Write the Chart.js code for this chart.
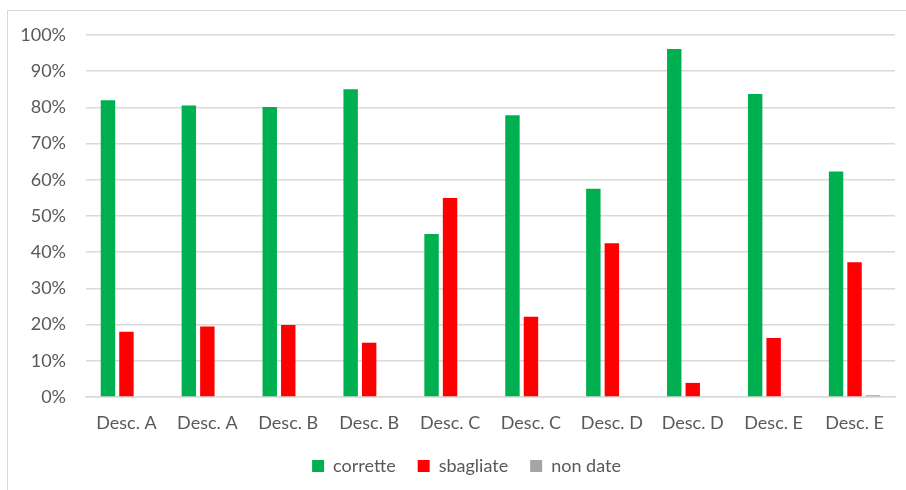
<!DOCTYPE html>
<html>
<head>
<meta charset="utf-8">
<script src="https://cdn.jsdelivr.net/npm/chart.js@4"></script>
<style>
  html, body { margin: 0; padding: 0; background: #fff; overflow: hidden; }
  #cornice { position: absolute; left: 7px; top: 10px; width: 950px; height: 550px; border: 1.5px solid #d9d9d9; }
  #wrap { position: absolute; left: 0; top: 0; width: 906px; height: 490px; }
</style>
</head>
<body>
<div id="cornice"></div>
<div id="wrap"><canvas id="grafico"></canvas></div>
<script>
// categorie e valori (percentuali)
const categorie = ["Desc. A", "Desc. A", "Desc. B", "Desc. B", "Desc. C", "Desc. C", "Desc. D", "Desc. D", "Desc. E", "Desc. E"];
const corrette = [82.0, 80.5, 80.1, 85.0, 45.0, 77.8, 57.5, 96.1, 83.7, 62.3];
const sbagliate = [18.0, 19.5, 19.9, 15.0, 55.0, 22.2, 42.5, 3.9, 16.3, 37.2];
const nonDate = [0, 0, 0, 0, 0, 0, 0, 0, 0, 0.5];

const grigioTesto = "#595959";
const font = { family: "Lato", size: 18 };

// sposta la legenda un po' a destra come nell'originale
const spostaLegenda = {
  id: "spostaLegenda",
  afterLayout(chart) {
    const lg = chart.legend;
    if (lg) { lg.left += 19; lg.right += 19; }
  }
};

new Chart(document.getElementById("grafico"), {
  type: "bar",
  data: {
    labels: categorie,
    datasets: [
      { label: "corrette", data: corrette, backgroundColor: "#00b050" },
      { label: "sbagliate", data: sbagliate, backgroundColor: "#ff0000" },
      { label: "non date", data: nonDate, backgroundColor: "#a5a5a5" }
    ]
  },
  plugins: [spostaLegenda],
  options: {
    responsive: true,
    maintainAspectRatio: false,
    animation: false,
    categoryPercentage: 0.686,
    barPercentage: 0.78,
    layout: { padding: { left: 0, right: 11, top: 35, bottom: 5 } },
    plugins: {
      tooltip: { enabled: false },
      legend: {
        position: "bottom",
        labels: {
          color: grigioTesto,
          font: font,
          boxWidth: 12,
          boxHeight: 12,
          padding: 22
        }
      }
    },
    scales: {
      x: {
        grid: { display: false },
        border: { display: true, color: "#d9d9d9", width: 1.5 },
        ticks: { color: grigioTesto, font: font, padding: 7, maxRotation: 0 },
        afterFit: (s) => { s.height = 38; }
      },
      y: {
        min: 0,
        max: 100,
        grid: { color: "#d9d9d9", lineWidth: 1.5, drawTicks: false },
        border: { display: false },
        ticks: {
          stepSize: 10,
          color: grigioTesto,
          font: font,
          padding: 20,
          callback: (v) => v + "%"
        },
        afterFit: (s) => { s.width = 86; }
      }
    }
  }
});
</script>
</body>
</html>
